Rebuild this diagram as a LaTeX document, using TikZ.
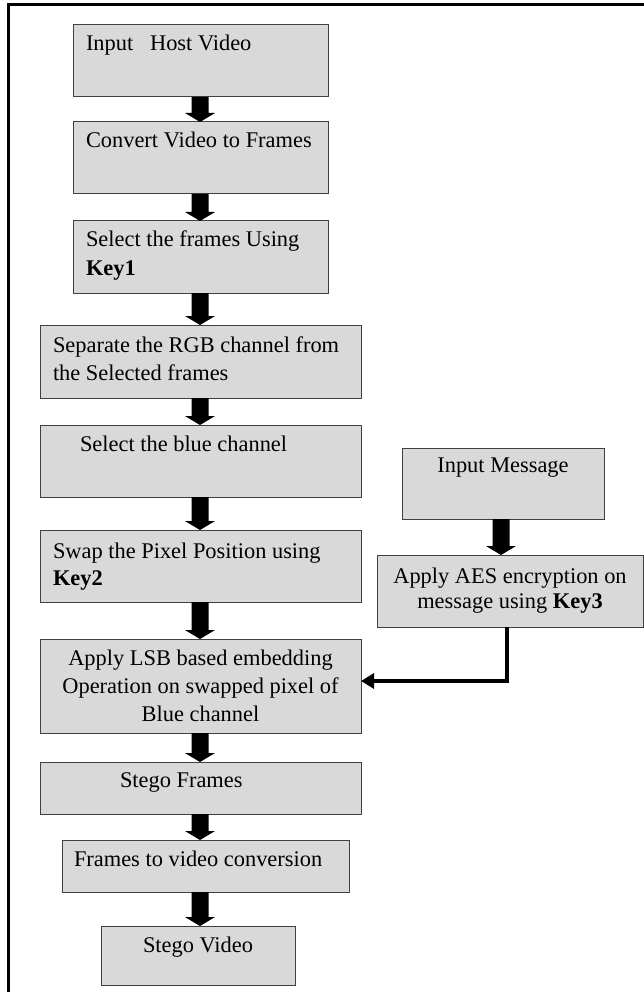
\documentclass[tikz,border=0pt]{standalone}
\usepackage{fontspec}
\setmainfont{Liberation Serif}
\usetikzlibrary{arrows.meta,calc}
\definecolor{boxfill}{HTML}{D9D9D9}
\definecolor{boxline}{HTML}{404040}
\tikzset{
  box/.style={draw=boxline, fill=boxfill, line width=1pt, inner sep=0pt, outer sep=0pt, anchor=north west},
  txt/.style={inner sep=0pt, outer sep=0pt, anchor=base west, font=\fontsize{22.4pt}{28pt}\selectfont},
  ctxt/.style={txt, anchor=base},
  blockarrow/.style={fill=black},
  conn/.style={line width=4pt, -{Triangle[length=13pt,width=15pt]}},
  frameline/.style={line width=3pt}
}
\newcommand{\mkbox}[5]{\node[box, minimum width=#4pt, minimum height=#5pt] (#1) at (#2,#3) {};}
\newcommand{\barrow}[3]{\fill[blockarrow] let \p1=(#1.south), \p2=(#2.north), \p3=(#3) in
  (\x3-8.5pt,\y1) -- (\x3+8.5pt,\y1) -- (\x3+8.5pt,\y2+9pt) -- (\x3+15pt,\y2+9pt) --
  (\x3,\y2) -- (\x3-15pt,\y2+9pt) -- (\x3-8.5pt,\y2+9pt) -- cycle;}
\begin{document}
\begin{tikzpicture}[x=1pt,y=-1pt]
\useasboundingbox (0,0) rectangle (644,992);
\draw[frameline] (644,5) -- (8.5,5) -- (8.5,992);
\coordinate (axisL) at (200,0);
\coordinate (axisR) at (501,0);
% boxes
\mkbox{b1}{73}{25}{255}{72}
\mkbox{b2}{73}{122}{255}{72}
\mkbox{b3}{73}{221}{255}{72}
\mkbox{b4}{40}{325}{321}{73}
\mkbox{b5}{40}{425}{321}{72}
\mkbox{b6}{40}{530}{321}{72}
\mkbox{b7}{40}{639}{321}{94}
\mkbox{b8}{40}{762}{321}{52}
\mkbox{b9}{62}{840}{287}{52}
\mkbox{b10}{101}{926}{194}{59}
\mkbox{im}{402}{448}{202}{71}
\mkbox{aes}{377}{555}{266}{72}
% texts
\node[txt] (t1) at (86,51) {Input\ \ \ Host Video};
\node[txt] (t2) at (86,148) {Convert Video to Frames};
\node[txt] (t3a) at (86,247) {Select the frames Using};
\node[txt] (t3b) at (86,275) {\textbf{Key1}};
\node[txt] (t4a) at (53,352) {Separate the RGB channel from};
\node[txt] (t4b) at (53,380) {the Selected frames};
\node[txt] (t5) at (80,451) {Select the blue channel};
\node[txt] (t6a) at (53,558) {Swap the Pixel Position using};
\node[txt] (t6b) at (53,585) {\textbf{Key2}};
\node[ctxt] (t7a) at (200.5,665) {Apply LSB based embedding};
\node[ctxt] (t7b) at (200.5,693) {Operation on swapped pixel of};
\node[ctxt] (t7c) at (200.5,721) {Blue channel};
\node[txt] (t8) at (120,787) {Stego Frames};
\node[txt] (t9) at (74,866) {Frames to video conversion};
\node[txt] (t10) at (143,952) {Stego Video};
\node[ctxt] (tim) at (503,472) {Input Message};
\node[ctxt] (taesa) at (510,583) {Apply AES encryption on};
\node[ctxt] (taesb) at (510,608) {message using \textbf{Key3}};
% block arrows
\barrow{b1}{b2}{axisL}
\barrow{b2}{b3}{axisL}
\barrow{b3}{b4}{axisL}
\barrow{b4}{b5}{axisL}
\barrow{b5}{b6}{axisL}
\barrow{b6}{b7}{axisL}
\barrow{b7}{b8}{axisL}
\barrow{b8}{b9}{axisL}
\barrow{b9}{b10}{axisL}
\barrow{im}{aes}{axisR}
% elbow connector
\draw[conn] ([xshift=-3pt]aes.south) |- ([yshift=5pt]b7.east);
\end{tikzpicture}
\end{document}
